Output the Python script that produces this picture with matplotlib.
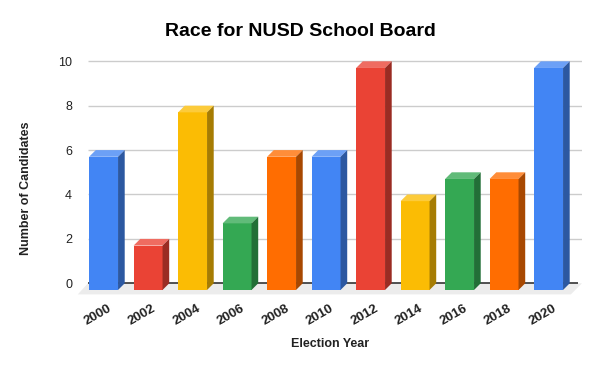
import matplotlib
matplotlib.use("Agg")
import matplotlib.pyplot as plt
from matplotlib.patches import Polygon
from matplotlib.colors import to_rgb
import numpy as np

# data
years = ['2000', '2002', '2004', '2006', '2008', '2010', '2012', '2014', '2016', '2018', '2020']
candidates = [6, 2, 8, 3, 6, 6, 10, 4, 5, 5, 10]
bar_colors = ['#4285f4', '#ea4335', '#fbbc04', '#34a853', '#ff6d01',
              '#4285f4', '#ea4335', '#fbbc04', '#34a853', '#ff6d01', '#4285f4']

plt.rcParams['font.family'] = ['Liberation Sans', 'DejaVu Sans']

W, H = 600, 371
fig = plt.figure(figsize=(W / 100, H / 100), dpi=100)

# axes placed so that y=0 sits at 283 px and y=10 at 61 px
unit_y = 22.2
y_lo, y_hi = -0.6, 10.3
ax_bottom_px = 283.3 - y_lo * unit_y
ax_top_px = 61.3 - (y_hi - 10) * unit_y
x_lo, x_hi = -0.75, 10.6
unit_x = 44.5
ax_left_px = 88 + (x_lo + 0.5) * unit_x
ax_right_px = 88 + (x_hi + 0.5) * unit_x
ax = fig.add_axes([ax_left_px / W, 1 - ax_bottom_px / H,
                   (ax_right_px - ax_left_px) / W, (ax_bottom_px - ax_top_px) / H])
ax.set_xlim(x_lo, x_hi)
ax.set_ylim(y_lo, y_hi)
for s in ax.spines.values():
    s.set_visible(False)

# floor + gridlines
ax.add_patch(Polygon([(-0.5, 0), (10.6, 0), (10.35, -0.5), (-0.73, -0.5)],
                     closed=True, facecolor='#ececec', edgecolor='none', zorder=0))
ax.hlines([2, 4, 6, 8, 10], -0.5, 10.6, color='#cccccc', lw=1, zorder=1)
ax.hlines([0], -0.5, 10.5, color='#333333', lw=1.2, zorder=1)

# 3d bars
x = np.arange(len(years))
w, dx, dy = 0.65, 0.15, 0.3


def shade(c, f):
    r, g, b = to_rgb(c)
    return (r * f, g * f, b * f)


def tint(c, f):
    r, g, b = to_rgb(c)
    return (r + (1 - r) * f, g + (1 - g) * f, b + (1 - b) * f)


ax.bar(x - dx, candidates, width=w, bottom=-dy, color=bar_colors, zorder=3)
for xi, v, c in zip(x, candidates, bar_colors):
    x0 = xi - dx - w / 2
    x1 = xi - dx + w / 2
    top = v - dy
    ax.add_patch(Polygon([(x0, top), (x1, top), (x1 + dx, v), (x0 + dx, v)],
                         closed=True, facecolor=tint(c, 0.22), edgecolor='none', zorder=3))
    ax.add_patch(Polygon([(x1, -dy), (x1 + dx, 0), (x1 + dx, v), (x1, top)],
                         closed=True, facecolor=shade(c, 0.66), edgecolor='none', zorder=3))

ax.set_yticks([0, 2, 4, 6, 8, 10])
ax.set_yticklabels(['0', '2', '4', '6', '8', '10'], fontsize=9, color='#222222')
ax.set_xticks(x)
ax.set_xticklabels(years, rotation=30, ha='right', va='center', rotation_mode='anchor',
                   fontsize=9.5, fontweight='bold', color='#222222')
ax.tick_params(axis='y', length=0, pad=3.5)
ax.tick_params(axis='x', length=0, pad=8)

fig.text(0.5, 1 - 32 / H, 'Race for NUSD School Board', ha='center', va='center',
         fontsize=14, fontweight='bold', color='#000000')
fig.text(330 / W, 1 - 344 / H, 'Election Year', ha='center', va='center',
         fontsize=9, fontweight='bold', color='#222222')
fig.text(26 / W, 1 - 188 / H, 'Number of Candidates', ha='center', va='center',
         rotation=90, fontsize=9, fontweight='bold', color='#222222')

fig.savefig('out.png', dpi=100)
